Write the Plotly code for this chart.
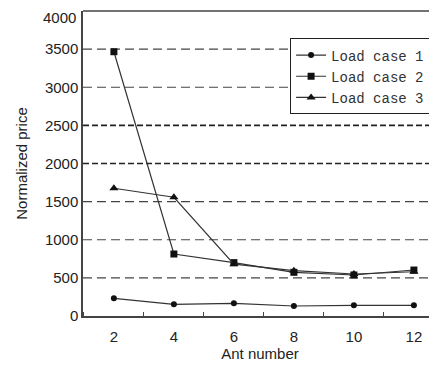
import plotly.graph_objects as go

ant_number = [2, 4, 6, 8, 10, 12]
load_case_1 = [232, 153, 166, 131, 140, 140]
load_case_2 = [3466, 813, 700, 573, 538, 603]
load_case_3 = [1675, 1557, 680, 594, 551, 580]
series_names = ["Load case 1", "Load case 2", "Load case 3"]
y_ticks = [0, 500, 1000, 1500, 2000, 2500, 3000, 3500, 4000]

line_col = "#333333"
fig = go.Figure()
for name, vals, sym, sz in [
    (series_names[0], load_case_1, "circle", 6),
    (series_names[1], load_case_2, "square", 7),
    (series_names[2], load_case_3, "triangle-up", 8),
]:
    fig.add_trace(go.Scatter(
        x=ant_number, y=vals, name=name, mode="lines+markers",
        line=dict(color=line_col, width=1.2),
        marker=dict(symbol=sym, size=sz, color="#111111"),
    ))

# dashed grid lines
for v in y_ticks[1:-1]:
    dense = v in (2000, 2500)
    fig.add_shape(type="line", xref="paper", yref="y", x0=0, x1=1, y0=v, y1=v,
                  line=dict(color="#222222" if dense else "#444444",
                            width=1.6 if dense else 1.2,
                            dash="6px,3px" if dense else "9px,5px"),
                  layer="below")
# top border
fig.add_shape(type="line", xref="paper", yref="paper", x0=0, x1=1, y0=1, y1=1,
              line=dict(color="#444444", width=1.5))

# top tick label (the automatic one would be hidden at the figure's top edge)
fig.add_annotation(xref="paper", yref="y", x=0, y=y_ticks[-1], text=str(y_ticks[-1]),
                   showarrow=False, xanchor="right", yanchor="middle",
                   xshift=-5, yshift=-6, font=dict(size=15, color="#222222"))

# the page body adds an 8px margin, so the figure is 8px smaller
fig.update_layout(
    width=429, height=361,
    margin=dict(l=75, r=0, t=3, b=53),
    paper_bgcolor="white", plot_bgcolor="white",
    font=dict(family="Liberation Sans, Arial, sans-serif", size=15, color="#222222"),
    showlegend=True,
    legend=dict(x=0.585, y=0.91, xanchor="left", yanchor="top",
                bordercolor="#222222", borderwidth=1, bgcolor="white",
                font=dict(family="Liberation Mono, monospace", size=14, color="#333333"),
                tracegroupgap=0, itemwidth=30),
    xaxis=dict(range=[0.97, 12.77], tickvals=ant_number, ticks="",
               showline=True, linecolor="#444444", linewidth=1.5,
               showgrid=False, zeroline=False, automargin=False,
               ticklabelstandoff=6,
               minor=dict(tick0=1, dtick=2, ticks="inside", ticklen=4,
                          tickcolor="#444444", showgrid=False),
               title=dict(text="Ant number", standoff=4, font=dict(size=15)),
               tickfont=dict(size=15)),
    yaxis=dict(range=[0, 4000], tickvals=y_ticks[:-1], ticks="",
               showline=True, linecolor="#444444", linewidth=1.5,
               showgrid=False, zeroline=False, automargin=False,
               title=dict(text="Normalized price", standoff=14, font=dict(size=15)),
               tickfont=dict(size=15)),
)

fig.write_html("out.html")
